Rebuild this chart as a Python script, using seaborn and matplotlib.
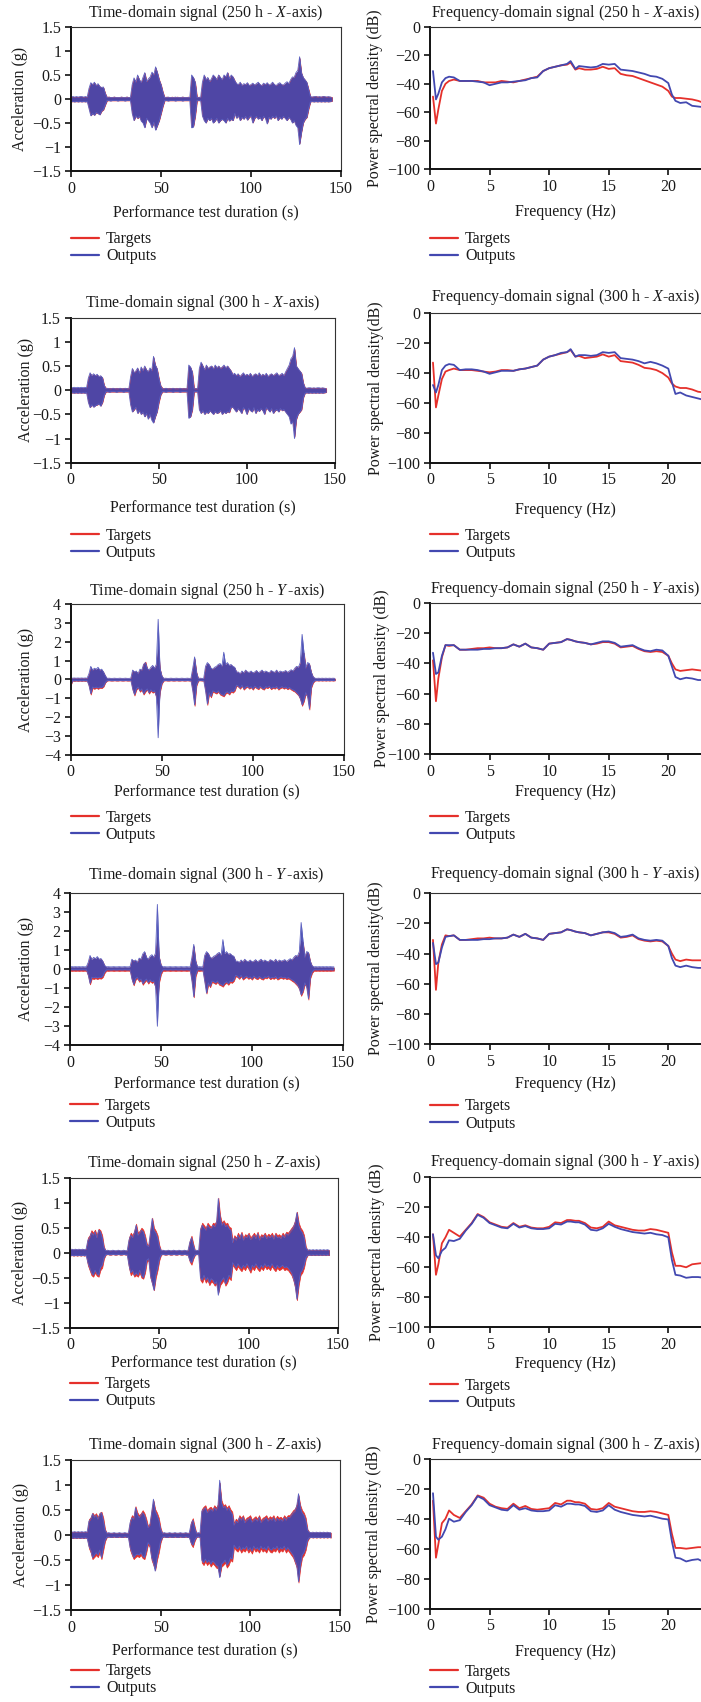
import numpy as np
import pandas as pd
import matplotlib
matplotlib.use("Agg")
import matplotlib.pyplot as plt
from matplotlib.lines import Line2D
from matplotlib.ticker import FuncFormatter
import seaborn as sns

# ---------------------------------------------------------------------------
# Time-domain envelopes (peak values per 1 s window, in hundredths of g)
# ---------------------------------------------------------------------------
time_s = np.arange(0, 146)

# 250 h, X-axis
x250_out_hi = [4, 5, 4, 5, 4, 5, 5, 4, 5, 4,
               22, 34, 30, 35, 28, 32, 26, 24, 25, 12,
               3, 4, 3, 3, 4, 3, 3, 3, 4, 3, 3, 4, 3, 3,
               30, 44, 35, 50, 40, 34, 45, 55, 36, 42, 46, 56, 50, 67, 55, 40, 30,
               15, 3, 3, 4, 3, 3, 3, 4, 3, 3, 3, 4, 3, 3, 3, 3,
               50, 45, 35, 3, 3, 3,
               35, 50, 40, 45, 36, 42, 50, 46, 40, 50, 45, 40, 50, 46, 55, 42, 50, 46, 38,
               32, 30, 35, 28, 32, 30, 34, 28, 30, 33, 29, 32, 35, 30, 28, 33, 30, 34, 29, 31,
               35, 30, 28, 32, 34, 30, 29, 33, 36, 32,
               40, 46, 45, 55, 60, 88, 55, 45, 40, 35, 20,
               5, 4, 5, 5, 4, 5, 4, 5, 5, 4, 5, 4, 3]
x250_out_lo = [-6, -5, -6, -5, -6, -5, -6, -5, -6, -5,
               -20, -35, -30, -34, -28, -30, -33, -25, -22, -12,
               -3, -3, -4, -3, -3, -3, -4, -3, -3, -3, -4, -3, -3, -3,
               -30, -45, -35, -40, -36, -46, -50, -60, -40, -45, -50, -60, -48, -65, -55, -45, -30,
               -15, -3, -3, -4, -3, -3, -3, -4, -3, -3, -3, -4, -3, -3, -3, -3,
               -60, -58, -35, -3, -3, -3,
               -35, -45, -50, -40, -45, -40, -50, -46, -40, -50, -45, -42, -45, -50, -40, -46, -42, -45, -30,
               -40, -35, -45, -38, -42, -36, -44, -38, -35, -50, -40, -36, -42, -38, -45, -36, -40, -52, -38, -42,
               -36, -40, -35, -45, -38, -42, -36, -40, -45, -38,
               -42, -50, -45, -55, -60, -95, -70, -50, -42, -38, -20,
               -6, -5, -6, -5, -6, -5, -6, -5, -6, -5, -6, -5, -4]
x250_tgt_hi = [4, 5, 4, 5, 4, 5, 5, 4, 5, 4,
               22, 33, 30, 34, 28, 31, 26, 24, 24, 12,
               4, 5, 4, 4, 5, 4, 4, 4, 5, 4, 4, 5, 4, 4,
               30, 43, 35, 48, 40, 34, 44, 54, 36, 41, 45, 55, 50, 65, 54, 40, 30,
               15, 4, 5, 4, 4, 5, 4, 4, 5, 4, 4, 5, 4, 4, 5, 4,
               48, 44, 34, 4, 5, 4,
               35, 49, 40, 44, 36, 42, 49, 46, 40, 50, 44, 40, 49, 46, 55, 42, 49, 46, 38,
               31, 30, 34, 28, 31, 30, 33, 28, 30, 32, 29, 31, 34, 30, 28, 32, 30, 33, 29, 30,
               34, 30, 28, 31, 33, 30, 29, 32, 35, 31,
               40, 45, 45, 54, 58, 85, 54, 44, 40, 34, 20,
               5, 5, 5, 6, 5, 5, 5, 6, 5, 5, 5, 5, 4]
x250_tgt_lo = [-5, -5, -5, -5, -5, -5, -5, -5, -5, -5,
               -20, -34, -30, -33, -28, -30, -32, -25, -22, -12,
               -3, -3, -3, -3, -3, -3, -3, -3, -3, -3, -3, -3, -3, -3,
               -30, -44, -35, -40, -36, -45, -49, -58, -40, -44, -49, -58, -48, -63, -54, -44, -30,
               -15, -3, -3, -3, -3, -3, -3, -3, -3, -3, -3, -3, -3, -3, -3, -3,
               -58, -56, -35, -3, -3, -3,
               -35, -44, -49, -40, -44, -40, -49, -45, -40, -49, -44, -42, -44, -49, -40, -45, -42, -44, -30,
               -39, -35, -44, -38, -41, -36, -43, -38, -35, -49, -40, -36, -41, -38, -44, -36, -40, -50, -38, -41,
               -36, -40, -35, -44, -38, -41, -36, -40, -44, -38,
               -42, -49, -45, -54, -58, -92, -68, -49, -42, -38, -20,
               -5, -5, -5, -5, -5, -5, -5, -5, -5, -5, -5, -5, -4]

# 300 h, X-axis
x300_out_hi = [6, 5, 6, 5, 6, 5, 6, 5, 6, 5,
               25, 36, 30, 34, 30, 33, 28, 30, 26, 10,
               3, 4, 3, 3, 4, 3, 3, 3, 4, 3, 3, 4, 3, 3,
               28, 45, 36, 40, 46, 35, 48, 40, 50, 42, 38, 46, 40, 70, 52, 45, 25,
               10, 3, 3, 4, 3, 3, 3, 4, 3, 3, 3, 4, 3, 3, 3, 3,
               52, 48, 38, 3, 3, 3,
               45, 58, 50, 42, 52, 45, 48, 50, 44, 52, 46, 50, 45, 48, 52, 46, 50, 45, 40,
               32, 35, 30, 34, 28, 32, 36, 30, 33, 30, 35, 28, 32, 34, 30, 36, 29, 33, 30, 35,
               28, 32, 34, 30, 33, 36, 30, 32, 35, 30,
               38, 45, 52, 65, 70, 88, 50, 45, 40, 35, 15,
               5, 4, 5, 5, 4, 5, 4, 5, 5, 4, 5, 4, 3]
x300_out_lo = [-6, -5, -6, -5, -6, -5, -6, -5, -6, -5,
               -25, -36, -30, -35, -32, -30, -28, -33, -25, -10,
               -3, -3, -4, -3, -3, -3, -4, -3, -3, -3, -4, -3, -3, -3,
               -30, -45, -40, -35, -48, -42, -50, -45, -55, -48, -60, -50, -62, -68, -55, -45, -25,
               -10, -3, -3, -4, -3, -3, -3, -4, -3, -3, -3, -4, -3, -3, -3, -3,
               -58, -55, -40, -3, -3, -3,
               -40, -48, -42, -50, -45, -48, -42, -46, -50, -44, -48, -46, -42, -50, -45, -48, -44, -46, -35,
               -35, -40, -45, -38, -42, -48, -36, -40, -50, -38, -42, -45, -36, -48, -40, -44, -38, -42, -50, -36,
               -40, -45, -38, -48, -42, -40, -45, -38, -42, -40,
               -45, -50, -55, -70, -65, -100, -60, -50, -45, -40, -15,
               -6, -5, -6, -5, -6, -5, -6, -5, -6, -5, -6, -5, -4]
x300_tgt_hi = [5, 5, 5, 5, 5, 5, 5, 5, 5, 5,
               25, 35, 30, 33, 30, 32, 28, 29, 26, 10,
               5, 4, 5, 4, 5, 4, 5, 4, 5, 4, 5, 4, 5, 4,
               28, 44, 36, 40, 45, 35, 47, 40, 49, 42, 38, 45, 40, 68, 52, 44, 25,
               10, 5, 4, 5, 4, 5, 4, 5, 4, 5, 4, 5, 4, 5, 4, 5,
               50, 47, 37, 5, 4, 5,
               45, 57, 50, 42, 51, 45, 48, 50, 44, 51, 46, 50, 45, 48, 51, 46, 50, 45, 40,
               32, 34, 30, 34, 28, 32, 35, 30, 33, 30, 34, 28, 32, 34, 30, 35, 29, 33, 30, 34,
               28, 32, 34, 30, 33, 35, 30, 32, 34, 30,
               38, 44, 51, 63, 70, 85, 50, 44, 40, 35, 15,
               5, 5, 5, 5, 5, 5, 5, 5, 5, 5, 5, 5, 4]
x300_tgt_lo = [-5, -5, -5, -5, -5, -5, -5, -5, -5, -5,
               -25, -35, -30, -34, -31, -30, -28, -32, -25, -10,
               -3, -3, -3, -3, -3, -3, -3, -3, -3, -3, -3, -3, -3, -3,
               -30, -44, -40, -35, -47, -42, -49, -45, -54, -48, -58, -50, -60, -66, -54, -44, -25,
               -10, -3, -3, -3, -3, -3, -3, -3, -3, -3, -3, -3, -3, -3, -3, -3,
               -56, -54, -40, -3, -3, -3,
               -40, -47, -42, -49, -45, -47, -42, -46, -49, -44, -47, -46, -42, -49, -45, -47, -44, -46, -35,
               -35, -40, -44, -38, -42, -47, -36, -40, -49, -38, -42, -44, -36, -47, -40, -43, -38, -42, -49, -36,
               -40, -44, -38, -47, -42, -40, -44, -38, -42, -40,
               -45, -49, -54, -68, -64, -96, -60, -49, -45, -40, -15,
               -5, -5, -5, -5, -5, -5, -5, -5, -5, -5, -5, -5, -4]

# 250 h, Y-axis
y250_out_hi = [8, 7, 8, 7, 8, 7, 8, 7, 8, 7,
               30, 70, 50, 60, 55, 65, 50, 55, 40, 20,
               6, 7, 6, 6, 7, 6, 6, 7, 6, 6, 7, 6, 6, 7,
               50, 40, 45, 30, 55, 50, 80, 90, 60, 50, 65, 75, 60, 80, 320, 60, 20,
               6, 7, 6, 6, 7, 6, 6, 7, 6, 6, 7, 6, 6, 7, 6, 6,
               60, 120, 40,
               6, 7, 6, 6,
               70, 90, 80, 60, 55, 65, 70, 80, 85, 70, 145, 80, 90, 75, 80, 70, 65, 40,
               40, 30, 45, 35, 50, 40, 38, 45, 35, 40, 48, 36, 42, 50, 38, 45, 40, 35, 48, 42,
               38, 50, 36, 45, 40, 42, 48, 38, 45, 52,
               45, 60, 70, 65, 90, 240, 145, 60, 90, 85, 40, 15,
               7, 6, 7, 6, 7, 6, 7, 6, 7, 6, 7, 6]
y250_out_lo = [-30, -6, -7, -6, -7, -6, -7, -6, -7, -6,
               -30, -75, -40, -45, -40, -45, -40, -42, -35, -15,
               -6, -5, -6, -6, -5, -6, -6, -5, -6, -6, -5, -6, -6, -5,
               -50, -80, -50, -40, -60, -50, -75, -60, -50, -70, -55, -65, -60, -90, -310, -60, -20,
               -6, -5, -6, -6, -5, -6, -6, -5, -6, -6, -5, -6, -6, -5, -6, -6,
               -60, -135, -30,
               -6, -5, -6, -6,
               -60, -130, -70, -90, -60, -65, -70, -60, -75, -80, -85, -70, -65, -75, -60, -65, -55, -30,
               -35, -45, -30, -50, -40, -35, -45, -38, -50, -35, -42, -48, -36, -45, -50, -38, -42, -35, -48, -40,
               -45, -36, -50, -42, -38, -45, -40, -48, -42, -50,
               -55, -60, -70, -80, -100, -135, -110, -70, -90, -155, -40, -15,
               -6, -5, -6, -5, -6, -5, -6, -5, -6, -5, -6, -5]
y250_tgt_hi = [7, 6, 7, 6, 7, 6, 7, 6, 7, 6,
               28, 65, 48, 56, 52, 60, 48, 52, 38, 18,
               5, 6, 5, 5, 6, 5, 5, 6, 5, 5, 6, 5, 5, 6,
               48, 40, 43, 30, 52, 48, 85, 95, 58, 50, 62, 72, 58, 75, 160, 55, 18,
               5, 6, 5, 5, 6, 5, 5, 6, 5, 5, 6, 5, 5, 6, 5, 5,
               58, 110, 38,
               5, 6, 5, 5,
               68, 85, 78, 58, 55, 62, 68, 78, 80, 68, 95, 78, 85, 72, 78, 68, 62, 38,
               38, 30, 43, 35, 48, 38, 36, 43, 35, 38, 46, 35, 40, 48, 36, 43, 38, 35, 46, 40,
               36, 48, 35, 43, 38, 40, 46, 36, 43, 50,
               43, 58, 68, 62, 85, 145, 140, 58, 85, 80, 38, 14,
               6, 5, 6, 5, 6, 5, 6, 5, 6, 5, 6, 5]
y250_tgt_lo = [-30, -6, -7, -6, -7, -6, -7, -6, -7, -6,
               -35, -80, -45, -50, -44, -50, -44, -46, -38, -16,
               -6, -5, -6, -6, -5, -6, -6, -5, -6, -6, -5, -6, -6, -5,
               -55, -85, -55, -44, -65, -55, -80, -65, -55, -75, -60, -70, -65, -95, -150, -65, -22,
               -6, -5, -6, -6, -5, -6, -6, -5, -6, -6, -5, -6, -6, -5, -6, -6,
               -65, -140, -33,
               -6, -5, -6, -6,
               -65, -135, -75, -95, -65, -70, -75, -65, -80, -85, -90, -75, -70, -80, -65, -70, -60, -33,
               -39, -49, -34, -54, -44, -39, -49, -42, -54, -39, -46, -52, -40, -49, -54, -42, -46, -39, -52, -44,
               -49, -40, -54, -46, -42, -49, -44, -52, -46, -54,
               -60, -65, -75, -85, -105, -140, -115, -75, -95, -160, -44, -17,
               -6, -5, -6, -5, -6, -5, -6, -5, -6, -5, -6, -5]

# 300 h, Y-axis
y300_out_hi = [12, 13, 12, 13, 12, 13, 12, 13, 12, 13,
               35, 72, 50, 62, 55, 66, 52, 56, 42, 20,
               12, 13, 12, 12, 13, 12, 12, 13, 12, 12, 13, 12, 12, 13,
               52, 42, 48, 35, 58, 52, 80, 92, 62, 52, 68, 76, 62, 85, 340, 65, 22,
               12, 13, 12, 12, 13, 12, 12, 13, 12, 12, 13, 12, 12, 13, 12, 12,
               62, 130, 45,
               12, 13, 12, 12,
               72, 92, 82, 62, 58, 68, 72, 82, 88, 72, 155, 82, 92, 78, 82, 72, 68, 42,
               42, 35, 48, 38, 52, 42, 40, 48, 38, 42, 50, 38, 45, 52, 40, 48, 42, 38, 50, 45,
               40, 52, 38, 48, 42, 45, 50, 40, 48, 55,
               48, 62, 72, 68, 92, 245, 150, 62, 92, 88, 42, 18,
               12, 13, 12, 13, 12, 13, 12, 13, 12, 13, 12, 12]
y300_out_lo = [-4, -3, -4, -3, -4, -3, -4, -3, -4, -3,
               -30, -75, -42, -46, -42, -46, -42, -44, -36, -15,
               -4, -3, -4, -4, -3, -4, -4, -3, -4, -4, -3, -4, -4, -3,
               -50, -80, -50, -42, -60, -52, -76, -62, -52, -70, -56, -66, -62, -92, -300, -62, -20,
               -4, -3, -4, -4, -3, -4, -4, -3, -4, -4, -3, -4, -4, -3, -4, -4,
               -62, -145, -32,
               -4, -3, -4, -4,
               -62, -125, -72, -90, -62, -66, -72, -62, -76, -80, -86, -72, -66, -76, -62, -66, -56, -32,
               -36, -46, -32, -50, -42, -36, -46, -40, -50, -36, -44, -48, -38, -46, -50, -40, -44, -36, -48, -42,
               -46, -38, -50, -44, -40, -46, -42, -48, -44, -50,
               -56, -62, -72, -82, -100, -135, -112, -72, -92, -155, -42, -15,
               -4, -3, -4, -3, -4, -3, -4, -3, -4, -3, -4, -3]
y300_tgt_hi = [8, 9, 8, 9, 8, 9, 8, 9, 8, 9,
               33, 68, 48, 58, 52, 62, 50, 54, 40, 18,
               8, 9, 8, 8, 9, 8, 8, 9, 8, 8, 9, 8, 8, 9,
               50, 42, 46, 35, 55, 50, 78, 88, 60, 50, 65, 72, 60, 80, 170, 60, 20,
               8, 9, 8, 8, 9, 8, 8, 9, 8, 8, 9, 8, 8, 9, 8, 8,
               60, 120, 42,
               8, 9, 8, 8,
               70, 88, 80, 60, 56, 65, 70, 80, 85, 70, 100, 80, 88, 75, 80, 70, 65, 40,
               40, 35, 46, 38, 50, 40, 38, 46, 38, 40, 48, 38, 43, 50, 38, 46, 40, 38, 48, 43,
               38, 50, 38, 46, 40, 43, 48, 38, 46, 52,
               46, 60, 70, 65, 88, 150, 140, 60, 88, 85, 40, 16,
               8, 9, 8, 9, 8, 9, 8, 9, 8, 9, 8, 8]
y300_tgt_lo = [-8, -9, -8, -9, -8, -9, -8, -9, -8, -9,
               -36, -80, -48, -52, -48, -52, -48, -50, -42, -20,
               -8, -9, -8, -8, -9, -8, -8, -9, -8, -8, -9, -8, -8, -9,
               -56, -85, -56, -48, -66, -58, -82, -68, -58, -76, -62, -72, -68, -98, -160, -68, -26,
               -8, -9, -8, -8, -9, -8, -8, -9, -8, -8, -9, -8, -8, -9, -8, -8,
               -68, -148, -38,
               -8, -9, -8, -8,
               -68, -128, -78, -95, -68, -72, -78, -68, -82, -86, -92, -78, -72, -82, -68, -72, -62, -38,
               -41, -51, -37, -55, -47, -41, -51, -45, -55, -41, -49, -53, -43, -51, -55, -45, -49, -41, -53, -47,
               -51, -43, -55, -49, -45, -51, -47, -53, -49, -55,
               -62, -68, -78, -88, -106, -140, -118, -78, -96, -160, -48, -20,
               -8, -9, -8, -9, -8, -9, -8, -9, -8, -9, -8, -8]

# 250 h, Z-axis
z250_out_hi = [6, 7, 6, 7, 6, 7, 6, 7, 6, 7,
               25, 30, 40, 35, 42, 30, 45, 42, 30, 10,
               4, 5, 4, 4, 5, 4, 4, 5, 4, 4, 5, 4, 4,
               25, 35, 30, 40, 55, 35, 40, 45, 42, 30, 15,
               12,
               40, 68, 45, 40, 30, 12,
               4, 5, 4, 4, 5, 4, 4, 5, 4, 4, 5, 4, 4, 5, 4, 4,
               20, 30, 15,
               4, 5, 4,
               45, 55, 50, 45, 55, 50, 48, 55, 52, 60, 108, 70, 55, 60, 52, 55, 48, 45, 20,
               30, 25, 35, 28, 38, 25, 32, 30, 36, 26, 30, 35, 28, 38, 25, 32, 30, 36, 28, 33,
               30, 35, 27, 36, 30, 32, 28, 35, 30, 38,
               35, 40, 45, 50, 60, 80, 55, 45, 40, 30, 10,
               5, 6, 5, 6, 5, 6, 5, 6, 5, 6, 5, 6, 5]
z250_out_lo = [-6, -5, -6, -5, -6, -5, -6, -5, -6, -5,
               -20, -30, -40, -45, -35, -42, -45, -30, -25, -10,
               -4, -3, -4, -4, -3, -4, -4, -3, -4, -4, -3, -4, -4,
               -25, -40, -35, -45, -40, -45, -35, -45, -50, -35, -15,
               -12,
               -45, -60, -75, -45, -30, -12,
               -4, -3, -4, -4, -3, -4, -4, -3, -4, -4, -3, -4, -4, -3, -4, -4,
               -15, -20, -10,
               -4, -3, -4,
               -50, -55, -45, -55, -50, -60, -52, -55, -62, -58, -85, -60, -55, -50, -62, -55, -45, -50, -20,
               -25, -30, -22, -28, -32, -25, -30, -22, -28, -35, -25, -30, -22, -28, -32, -25, -30, -22, -28, -25,
               -30, -22, -28, -32, -25, -30, -28, -25, -30, -28,
               -30, -35, -40, -50, -65, -93, -60, -40, -35, -25, -10,
               -5, -4, -5, -4, -5, -4, -5, -4, -5, -4, -5, -4, -5]
z250_tgt_hi = [6, 7, 6, 7, 6, 7, 6, 7, 6, 7,
               30, 35, 45, 40, 46, 35, 48, 45, 35, 12,
               4, 5, 4, 4, 5, 4, 4, 5, 4, 4, 5, 4, 4,
               30, 40, 35, 44, 58, 40, 44, 50, 46, 35, 18,
               15,
               45, 70, 50, 44, 35, 15,
               4, 5, 4, 4, 5, 4, 4, 5, 4, 4, 5, 4, 4, 5, 4, 4,
               24, 34, 18,
               4, 5, 4,
               50, 60, 55, 50, 60, 55, 52, 60, 58, 65, 110, 75, 60, 65, 58, 60, 52, 50, 24,
               35, 30, 40, 33, 42, 30, 37, 35, 40, 31, 35, 40, 33, 42, 30, 37, 35, 40, 33, 38,
               35, 40, 32, 40, 35, 37, 33, 40, 35, 42,
               40, 45, 50, 55, 65, 82, 60, 50, 45, 35, 12,
               5, 6, 5, 6, 5, 6, 5, 6, 5, 6, 5, 6, 5]
z250_tgt_lo = [-6, -5, -6, -5, -6, -5, -6, -5, -6, -5,
               -25, -35, -45, -48, -40, -46, -48, -35, -30, -12,
               -4, -3, -4, -4, -3, -4, -4, -3, -4, -4, -3, -4, -4,
               -30, -45, -40, -48, -45, -48, -40, -50, -52, -40, -18,
               -15,
               -50, -62, -75, -50, -35, -15,
               -4, -3, -4, -4, -3, -4, -4, -3, -4, -4, -3, -4, -4, -3, -4, -4,
               -18, -24, -12,
               -4, -3, -4,
               -55, -60, -50, -60, -55, -65, -58, -60, -66, -62, -80, -65, -60, -55, -66, -60, -50, -55, -24,
               -30, -35, -27, -33, -37, -30, -35, -27, -33, -40, -30, -35, -27, -33, -37, -30, -35, -27, -33, -30,
               -35, -27, -33, -37, -30, -35, -33, -30, -35, -33,
               -35, -40, -45, -55, -70, -95, -65, -45, -40, -30, -12,
               -5, -4, -5, -4, -5, -4, -5, -4, -5, -4, -5, -4, -5]

# 300 h, Z-axis
z300_out_hi = [7, 6, 7, 6, 7, 6, 7, 6, 7, 6,
               28, 32, 43, 36, 40, 32, 42, 45, 30, 10,
               4, 5, 4, 4, 5, 4, 4, 5, 4, 4, 5, 4, 4,
               25, 35, 32, 55, 42, 35, 40, 45, 40, 28, 15,
               20,
               45, 72, 48, 40, 30, 12,
               4, 5, 4, 4, 5, 4, 4, 5, 4, 4, 5, 4, 4, 5, 4, 4,
               22, 30, 15,
               4, 5, 4,
               48, 52, 55, 45, 50, 52, 48, 55, 50, 58, 110, 65, 55, 58, 50, 55, 48, 42, 20,
               28, 25, 35, 30, 36, 25, 30, 32, 35, 26, 30, 33, 28, 36, 25, 30, 32, 35, 28, 33,
               30, 35, 27, 34, 30, 32, 28, 35, 30, 36,
               35, 40, 45, 48, 58, 83, 55, 45, 40, 30, 10,
               6, 5, 6, 5, 6, 5, 6, 5, 6, 5, 6, 5, 5]
z300_out_lo = [-5, -6, -5, -6, -5, -6, -5, -6, -5, -6,
               -22, -30, -45, -40, -35, -40, -30, -45, -25, -10,
               -4, -3, -4, -4, -3, -4, -4, -3, -4, -4, -3, -4, -4,
               -25, -35, -45, -40, -38, -40, -35, -42, -45, -30, -15,
               -20,
               -45, -55, -72, -45, -30, -12,
               -4, -3, -4, -4, -3, -4, -4, -3, -4, -4, -3, -4, -4, -3, -4, -4,
               -15, -20, -10,
               -4, -3, -4,
               -50, -55, -48, -55, -50, -58, -52, -55, -60, -62, -85, -58, -55, -50, -60, -55, -45, -48, -20,
               -25, -28, -22, -30, -25, -28, -22, -30, -25, -32, -22, -28, -25, -30, -22, -28, -25, -30, -22, -28,
               -30, -25, -28, -22, -30, -25, -28, -22, -30, -25,
               -30, -35, -40, -50, -60, -93, -60, -40, -35, -25, -10,
               -5, -4, -5, -4, -5, -4, -5, -4, -5, -4, -5, -4, -5]
z300_tgt_hi = [7, 6, 7, 6, 7, 6, 7, 6, 7, 6,
               32, 36, 45, 40, 44, 36, 45, 47, 35, 12,
               4, 5, 4, 4, 5, 4, 4, 5, 4, 4, 5, 4, 4,
               30, 40, 37, 58, 46, 40, 44, 50, 44, 33, 18,
               24,
               50, 70, 52, 45, 35, 15,
               4, 5, 4, 4, 5, 4, 4, 5, 4, 4, 5, 4, 4, 5, 4, 4,
               26, 34, 18,
               4, 5, 4,
               52, 57, 60, 50, 55, 57, 52, 60, 55, 62, 105, 70, 60, 62, 55, 60, 52, 47, 24,
               33, 30, 40, 35, 40, 30, 35, 37, 40, 31, 35, 38, 33, 40, 30, 35, 37, 40, 33, 38,
               35, 40, 32, 39, 35, 37, 33, 40, 35, 40,
               40, 45, 50, 53, 62, 80, 60, 50, 45, 35, 12,
               6, 5, 6, 5, 6, 5, 6, 5, 6, 5, 6, 5, 5]
z300_tgt_lo = [-5, -6, -5, -6, -5, -6, -5, -6, -5, -6,
               -26, -35, -48, -44, -40, -44, -35, -48, -30, -12,
               -4, -3, -4, -4, -3, -4, -4, -3, -4, -4, -3, -4, -4,
               -30, -40, -48, -44, -42, -44, -40, -46, -48, -35, -18,
               -24,
               -50, -60, -70, -50, -35, -15,
               -4, -3, -4, -4, -3, -4, -4, -3, -4, -4, -3, -4, -4, -3, -4, -4,
               -18, -24, -12,
               -4, -3, -4,
               -55, -60, -53, -60, -55, -63, -57, -60, -65, -67, -82, -63, -60, -55, -65, -60, -50, -53, -24,
               -30, -33, -27, -35, -30, -33, -27, -35, -30, -37, -27, -33, -30, -35, -27, -33, -30, -35, -27, -33,
               -35, -30, -33, -27, -35, -30, -33, -27, -35, -30,
               -35, -40, -45, -55, -65, -95, -65, -45, -40, -30, -12,
               -5, -4, -5, -4, -5, -4, -5, -4, -5, -4, -5, -4, -5]

# ---------------------------------------------------------------------------
# Power spectral density (dB)
# ---------------------------------------------------------------------------
freq_hz = [0.25, 0.5, 0.7, 1.0, 1.3, 1.6, 2.0, 2.5, 3.0, 3.5, 4.0, 4.5, 5.0, 5.5, 6.0, 6.5,
           7.0, 7.5, 8.0, 8.5, 9.0, 9.5, 10.0, 10.5, 11.0, 11.5, 11.8, 12.2, 12.5, 13.0,
           13.5, 14.0, 14.5, 15.0, 15.5, 16.0, 16.5, 17.0, 17.5, 18.0, 18.5, 19.0, 19.5,
           20.0, 20.3, 20.6, 21.0, 21.5, 22.0, 22.5, 23.0]

psd_x250_tgt = [-49, -68, -58, -45, -40, -38, -37, -38, -38, -38, -38, -39, -39, -39, -38, -38.5,
                -39, -38, -37, -36, -35, -31, -29, -28, -27, -26.5, -25, -30, -29, -30,
                -30, -29.5, -28, -29.5, -29, -33, -34, -34.5, -36, -37.5, -39, -40.5, -42,
                -45, -49, -50, -50, -50.5, -51, -52, -53.5]
psd_x250_out = [-31, -51, -47, -39, -36, -35, -35.5, -38, -38, -38, -38.5, -39, -41, -40, -39, -39,
                -38.5, -38, -37.5, -36, -35.5, -31, -29, -28, -27, -26, -24, -29.5, -27.5, -28,
                -28.5, -28, -26, -26.5, -26, -30, -30.5, -31, -32, -33, -34.5, -35, -36.5,
                -39.5, -47.5, -52, -53.5, -53, -55.5, -56, -56.5]
psd_x300_tgt = [-33, -63, -55, -44, -39, -38, -37, -38, -38, -38, -38.5, -39, -39.5, -39, -38, -38,
                -38.5, -37.5, -37, -36, -35, -31, -29, -28, -27, -26, -24.5, -29, -28.5, -30,
                -29.5, -29, -27.5, -29, -28, -32, -32.5, -33, -34.5, -36.5, -37, -38, -40,
                -43, -47, -49, -50, -50, -51, -52.5, -53]
psd_x300_out = [-48, -53, -48, -38, -35, -34, -34.5, -38, -37.5, -37.5, -38, -39, -40.5, -39.5, -38.5, -38.5,
                -38.5, -37.5, -37, -36, -35, -31, -29, -28, -26.5, -26, -24, -29, -28, -28,
                -28.5, -28, -26, -26.5, -26, -30, -30.5, -31, -32, -33.5, -32.5, -33.5, -35,
                -37, -46, -54, -53, -55, -56, -57, -58]
psd_y250_tgt = [-38, -65, -50, -36, -28, -28.5, -28, -31, -31, -30.5, -30, -30, -29.5, -30, -30, -29.5,
                -27.5, -29, -27, -29.5, -30, -31, -27, -26.5, -26, -24, -24.5, -25.5, -26, -26.5,
                -27.5, -27, -26, -26, -27, -29.5, -29, -28.5, -30.5, -32, -32.5, -32, -32.5,
                -35, -40, -44, -45, -44.5, -44, -44.5, -45]
psd_y250_out = [-33, -47, -46, -35, -28, -28, -28, -31, -31, -31, -31, -30.5, -30.5, -30, -30, -29.5,
                -27.5, -29, -27, -29.5, -30, -31, -27, -26.5, -26, -24, -24.5, -25.5, -26, -26.5,
                -27.5, -26.5, -25.5, -25.5, -26.5, -29, -28.5, -28, -30, -31.5, -32, -31, -31.5,
                -35, -42, -49, -50.5, -49.5, -50, -51, -51]
psd_y300_tgt = [-31, -64, -46, -34, -28, -28.5, -28, -31, -31, -30.5, -30, -30, -29.5, -30, -30, -29.5,
                -27.5, -29, -27, -29.5, -30, -31, -27, -26.5, -26, -24, -24.5, -25.5, -26, -26.5,
                -28, -27, -26, -26, -27, -29.5, -29, -28, -30.5, -31.5, -32, -31.5, -32,
                -35, -40, -44, -45, -44, -44.5, -44.5, -44.5]
psd_y300_out = [-33, -47, -46, -36, -29, -28.5, -28, -31, -31, -31, -31, -30.5, -30.5, -30, -30, -29.5,
                -27.5, -29, -27, -29.5, -30, -31, -27, -26.5, -26, -24, -24.5, -25.5, -26, -26.5,
                -28, -27, -26, -25.5, -26.5, -29, -28.5, -27.5, -30, -31, -31.5, -31, -31.5,
                -35, -43, -48, -49, -48, -49, -49.5, -49.5]
psd_z250_tgt = [-38, -65, -58, -44, -40, -35, -37, -39.5, -35, -30.5, -24.5, -26.5, -30, -31.5, -33, -33.5,
                -30.5, -33, -32, -33.5, -34, -34, -33, -30, -30.5, -28.5, -28.5, -29, -29, -30.5,
                -33.5, -34, -33, -29.5, -32, -33, -34, -35, -35.5, -35.5, -34.5, -35, -36,
                -37, -50, -59, -59, -60, -58, -57.5, -57]
psd_z250_out = [-38, -52, -54, -49, -47, -42, -42.5, -41, -35.5, -31, -25, -27, -30.5, -32, -33.5, -34,
                -31, -33.5, -32.5, -34, -34.5, -34.5, -34, -31, -31.5, -29.5, -29.5, -30, -30, -31.5,
                -35, -35.5, -34, -31, -33, -34.5, -35.5, -36.5, -37, -37.5, -37, -38, -38.5,
                -40, -55, -65, -65.5, -67, -66.5, -66.5, -67]
psd_z300_tgt = [-28, -66, -57, -43, -40, -34.5, -37.5, -39.5, -35, -30.5, -24.5, -26, -30, -32, -33, -33.5,
                -30, -33, -31.5, -33.5, -34, -33.5, -33, -29.5, -30.5, -28, -28, -29, -29, -30,
                -33.5, -34, -33, -29.5, -32, -33, -34, -35, -35.5, -35.5, -35, -35.5, -36.5,
                -37.5, -50, -59.5, -59.5, -60, -59.5, -59, -59]
psd_z300_out = [-23, -52, -54, -52, -47, -40, -42, -41, -35.5, -31, -25, -27, -31, -32.5, -34, -34.5,
                -31, -34, -33, -34.5, -35, -35, -34.5, -31, -32, -30, -30, -30.5, -30.5, -31.5,
                -35, -35.5, -34.5, -31, -34, -35.5, -36.5, -37.5, -38, -38.5, -38, -39, -40,
                -40.5, -55, -66, -66.5, -68.5, -67.5, -67, -69]

# Tick values and labels
accel_ticks_small = [-1.5, -1, -0.5, 0, 0.5, 1, 1.5]
accel_ticks_large = [-4, -3, -2, -1, 0, 1, 2, 3, 4]
time_ticks = [0, 50, 100, 150]
freq_ticks = [0, 5, 10, 15, 20]
psd_ticks = [-100, -80, -60, -40, -20, 0]

time_titles = ["Time-domain signal (250 h - $X$-axis)",
               "Time-domain signal (300 h - $X$-axis)",
               "Time-domain signal (250 h - $Y\\,$-axis)",
               "Time-domain signal (300 h - $Y\\,$-axis)",
               "Time-domain signal (250 h - $Z$-axis)",
               "Time-domain signal (300 h - $Z$-axis)"]
freq_titles = ["Frequency-domain signal (250 h - $X$-axis)",
               "Frequency-domain signal (300 h - $X$-axis)",
               "Frequency-domain signal (250 h - $Y\\,$-axis)",
               "Frequency-domain signal (300 h - $Y\\,$-axis)",
               "Frequency-domain signal (300 h - $Y\\,$-axis)",
               "Frequency-domain signal (300 h - Z-axis)"]
psd_ylabels = ["Power spectral density (dB)", "Power spectral density(dB)",
               "Power spectral density (dB)", "Power spectral density(dB)",
               "Power spectral density (dB)", "Power spectral density (dB)"]
legend_labels = ["Targets", "Outputs"]

# ---------------------------------------------------------------------------
# Style
# ---------------------------------------------------------------------------
sns.set_theme(style="ticks")
plt.rcParams["font.family"] = ["Liberation Serif", "DejaVu Serif"]
plt.rcParams["mathtext.fontset"] = "custom"
plt.rcParams["mathtext.rm"] = "Liberation Serif"
plt.rcParams["mathtext.it"] = "Liberation Serif:italic"
FS = 11.5
TEXT_C = "#1a1a1a"
RED = "#e5302b"
BLUE = "#4248b0"

W_PX, H_PX = 701, 1702
fig = plt.figure(figsize=(W_PX / 100, H_PX / 100), dpi=100)
fig.patch.set_facecolor("white")


def px_box(x0, x1, ytop, ybot):
    return [x0 / W_PX, 1 - ybot / H_PX, (x1 - x0) / W_PX, (ybot - ytop) / H_PX]


# Panel frames in pixels: (left, right, top, bottom)
left_frames = [(71, 341, 27, 171), (70.7, 335, 317.7, 462.7), (70.7, 344, 604.3, 754.7),
               (70, 343, 893, 1045.3), (70, 338, 1177.7, 1327.7), (71, 339.7, 1460.3, 1610)]
right_frames = [(430, 701, 27, 169), (430, 701, 313.3, 462.7), (430, 701, 602.7, 754.3),
                (430, 701, 893, 1044.3), (430, 701, 1177.3, 1327.3), (430, 701, 1458.7, 1608.7)]
title_gap_l = [14.3, 15, 13, 17.7, 15, 15]
title_gap_r = [14.3, 16, 13.4, 18.7, 15, 13.4]
xlab_gap_l = [41, 45, 37, 38, 35, 40]
xlab_gap_r = [43, 47.3, 38, 40, 37, 43]
ylab_x_l = [20.5, 26, 26, 26, 20, 20.5]
ylab_x_r = [375, 375.7, 381.7, 376, 376.7, 374]
legend_y_l = [240.7, 537, 819, 1107, 1385.7, 1672.7]
legend_y_r = [240.7, 537.3, 819, 1108, 1387, 1673]

fmt = FuncFormatter(lambda v, p: f"{v:g}".replace("-", "\u2212"))


def style_axes(ax, frame, title, title_gap, xlab, xlab_gap, ylab, ylab_x, leg_y, right_edge_open):
    x0, x1, yt, yb = frame
    w, h = x1 - x0, yb - yt
    for side in ("left", "bottom"):
        ax.spines[side].set_linewidth(1.4)
        ax.spines[side].set_color("#111111")
    for side in ("top", "right"):
        ax.spines[side].set_visible(True)
        ax.spines[side].set_linewidth(0.8)
        ax.spines[side].set_color("#333333")
    if right_edge_open:
        ax.spines["right"].set_visible(False)
    ax.tick_params(axis="both", direction="out", length=4.5, width=1.2, pad=2.5,
                   labelsize=FS, colors="#111111", labelcolor=TEXT_C)
    ax.tick_params(top=False, right=False)
    ax.xaxis.set_major_formatter(fmt)
    ax.yaxis.set_major_formatter(fmt)
    ax.set_facecolor("white")
    ax.grid(False)
    ax.text(0.5, 1 + title_gap / h, title, transform=ax.transAxes, ha="center", va="center",
            fontsize=FS, color=TEXT_C, fontweight="normal")
    ax.set_xlabel(xlab, fontsize=FS, color=TEXT_C)
    ax.xaxis.label.set_va("center")
    ax.xaxis.set_label_coords(0.5, -xlab_gap / h)
    ax.set_ylabel(ylab, fontsize=FS, color=TEXT_C)
    ax.yaxis.label.set_va("center")
    ax.yaxis.set_label_coords((ylab_x - x0) / w, 0.5)
    handles = [Line2D([], [], color=RED, lw=1.6), Line2D([], [], color=BLUE, lw=1.6)]
    leg = ax.legend(handles, legend_labels, loc="upper left", frameon=False, fontsize=FS,
                    bbox_to_anchor=(x0 / W_PX, 1 - (leg_y - 9.5) / H_PX),
                    bbox_transform=fig.transFigure, borderpad=0, borderaxespad=0,
                    handlelength=1.75, handletextpad=0.45, labelspacing=0.08)
    for txt in leg.get_texts():
        txt.set_color(TEXT_C)


time_sets = [
    (x250_tgt_hi, x250_tgt_lo, x250_out_hi, x250_out_lo, accel_ticks_small),
    (x300_tgt_hi, x300_tgt_lo, x300_out_hi, x300_out_lo, accel_ticks_small),
    (y250_tgt_hi, y250_tgt_lo, y250_out_hi, y250_out_lo, accel_ticks_large),
    (y300_tgt_hi, y300_tgt_lo, y300_out_hi, y300_out_lo, accel_ticks_large),
    (z250_tgt_hi, z250_tgt_lo, z250_out_hi, z250_out_lo, accel_ticks_small),
    (z300_tgt_hi, z300_tgt_lo, z300_out_hi, z300_out_lo, accel_ticks_small),
]
psd_sets = [
    (psd_x250_tgt, psd_x250_out), (psd_x300_tgt, psd_x300_out),
    (psd_y250_tgt, psd_y250_out), (psd_y300_tgt, psd_y300_out),
    (psd_z250_tgt, psd_z250_out), (psd_z300_tgt, psd_z300_out),
]

for i in range(6):
    # --- time-domain panel: targets underneath, outputs on top ---
    t_hi, t_lo, o_hi, o_lo, yt = time_sets[i]
    env = pd.DataFrame({
        "t": time_s,
        "tgt_hi": np.asarray(t_hi) / 100.0, "tgt_lo": np.asarray(t_lo) / 100.0,
        "out_hi": np.asarray(o_hi) / 100.0, "out_lo": np.asarray(o_lo) / 100.0,
    })
    ax = fig.add_axes(px_box(*left_frames[i]))
    ax.fill_between(env["t"], env["tgt_lo"], env["tgt_hi"], color=RED, lw=0.5, edgecolor=RED)
    ax.fill_between(env["t"], env["out_lo"], env["out_hi"], color=BLUE, lw=0.0, alpha=0.92)
    sns.lineplot(data=env, x="t", y="out_hi", ax=ax, color="#5a5fc0", lw=0.6)
    sns.lineplot(data=env, x="t", y="out_lo", ax=ax, color="#5a5fc0", lw=0.6)
    ax.set_xlim(0, 150)
    ax.set_ylim(yt[0], yt[-1])
    ax.set_xticks(time_ticks)
    ax.set_yticks(yt)
    style_axes(ax, left_frames[i], time_titles[i], title_gap_l[i],
               "Performance test duration (s)", xlab_gap_l[i],
               "Acceleration (g)", ylab_x_l[i], legend_y_l[i], False)

    # --- frequency-domain panel ---
    tgt, out = psd_sets[i]
    spec = pd.DataFrame({"f": freq_hz, "tgt": tgt, "out": out})
    ax2 = fig.add_axes(px_box(*right_frames[i]))
    sns.lineplot(data=spec, x="f", y="tgt", ax=ax2, color=RED, lw=1.3)
    sns.lineplot(data=spec, x="f", y="out", ax=ax2, color=BLUE, lw=1.3)
    ax2.set_xlim(0, 271 / 11.915)
    ax2.set_ylim(-100, 0)
    ax2.set_xticks(freq_ticks)
    ax2.set_yticks(psd_ticks)
    style_axes(ax2, right_frames[i], freq_titles[i], title_gap_r[i],
               "Frequency (Hz)", xlab_gap_r[i],
               psd_ylabels[i], ylab_x_r[i], legend_y_r[i], True)

fig.savefig("out.png", dpi=100, facecolor="white")
